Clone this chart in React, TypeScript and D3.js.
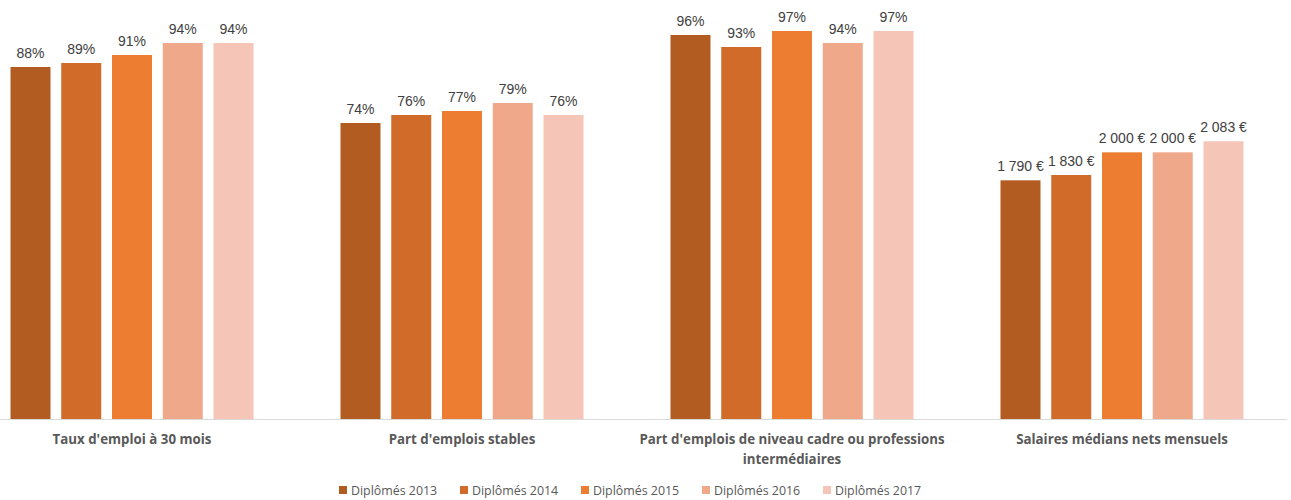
import React from "react";
import * as d3 from "d3";

const categories = [
  ["Taux d'emploi à 30 mois"],
  ["Part d'emplois stables"],
  ["Part d'emplois de niveau cadre ou professions", "intermédiaires"],
  ["Salaires médians nets mensuels"],
];
const series = ["Diplômés 2013", "Diplômés 2014", "Diplômés 2015", "Diplômés 2016", "Diplômés 2017"];
const colors = ["#B35C22", "#D06B29", "#ED7D31", "#F0A88A", "#F5C6B7"];
// values per category, per series
const tauxEmploi = [88, 89, 91, 94, 94];
const emploisStables = [74, 76, 77, 79, 76];
const emploisCadre = [96, 93, 97, 94, 97];
const salaires = [1790, 1830, 2000, 2000, 2083];

const W = 1291;
const H = 500;

export default function App() {
  const x0 = d3.scaleBand<number>().domain([0, 1, 2, 3]).range([-33, 1287]).padding(0);
  const x1 = d3
    .scaleBand<number>()
    .domain([0, 1, 2, 3, 4])
    .range([43.5, 286.5])
    .paddingInner(0.212)
    .paddingOuter(0);
  const yPct = d3.scaleLinear().domain([0, 100]).range([419, 19]);
  const ySal = d3.scaleLinear().domain([0, 3000]).range([419, 19]);
  const fmtSal = (v: number) => d3.format(",")(v).replace(/,/g, " ") + " €";

  const data = [
    { vals: tauxEmploi, y: yPct, fmt: (v: number) => v + "%" },
    { vals: emploisStables, y: yPct, fmt: (v: number) => v + "%" },
    { vals: emploisCadre, y: yPct, fmt: (v: number) => v + "%" },
    { vals: salaires, y: ySal, fmt: fmtSal },
  ];

  return (
    <svg
      width={W}
      height={H}
      style={{ position: "absolute", left: 0, top: 0, display: "block", background: "#fff" }}
    >
      {data.map((g, gi) => (
        <g key={gi} transform={`translate(${x0(gi)},0)`}>
          {g.vals.map((v, si) => {
            const bx = x1(si)!;
            const bw = x1.bandwidth();
            const top = g.y(v);
            return (
              <g key={si}>
                <rect x={bx} y={top} width={bw} height={419 - top} fill={colors[si]} />
                <text
                  x={bx + bw / 2}
                  y={top - 9}
                  textAnchor="middle"
                  fontFamily="Liberation Sans, Arial, sans-serif"
                  fontSize={14}
                  fill="#404040"
                >
                  {g.fmt(v)}
                </text>
              </g>
            );
          })}
          {categories[gi].map((line, li) => (
            <text
              key={li}
              x={x0.bandwidth() / 2}
              y={444 + li * 20}
              textAnchor="middle"
              fontFamily="Open Sans, sans-serif"
              fontWeight="bold"
              fontSize={13.3}
              fill="#595959"
            >
              {line}
            </text>
          ))}
        </g>
      ))}
      <line x1={0} x2={1287} y1={419.5} y2={419.5} stroke="#D9D9D9" strokeWidth={1} />
      {series.map((s, i) => (
        <g key={s} transform={`translate(${339 + i * 121},0)`}>
          <rect x={0} y={486} width={8} height={8} fill={colors[i]} />
          <text
            x={12}
            y={495}
            fontFamily="Open Sans, sans-serif"
            fontSize={12.4}
            fill="#595959"
          >
            {s}
          </text>
        </g>
      ))}
    </svg>
  );
}
